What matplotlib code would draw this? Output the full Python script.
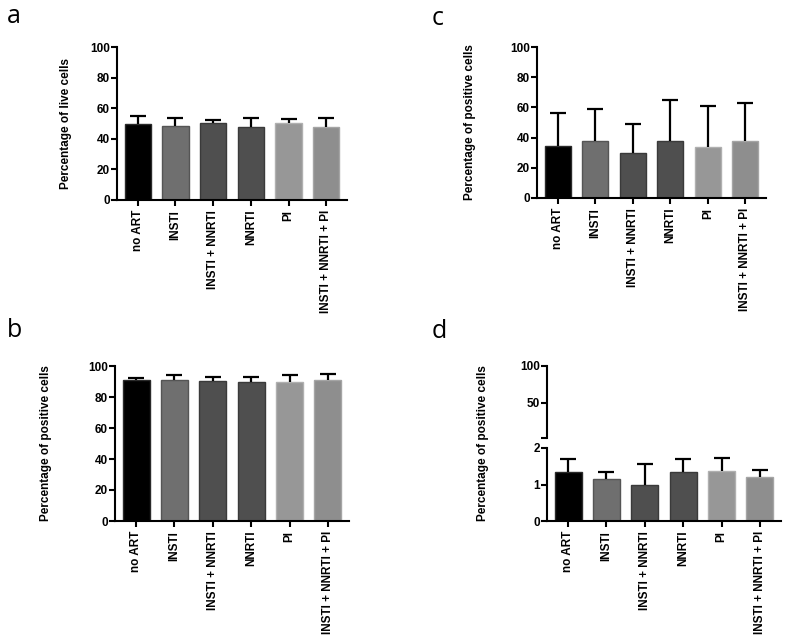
import numpy as np
import matplotlib
matplotlib.use('Agg')
import matplotlib.pyplot as plt

plt.rcParams['font.family'] = ['Liberation Sans', 'DejaVu Sans']

# Grupos de tratamento
grupos = ['no ART', 'INSTI', 'INSTI + NNRTI', 'NNRTI', 'PI', 'INSTI + NNRTI + PI']

# Valores (media e limite superior da barra de erro)
vivas_a = [49.4, 48.1, 50.1, 47.7, 50.1, 47.7]
vivas_a_sup = [55.1, 53.4, 52.5, 53.8, 52.7, 53.4]

pos_b = [91.0, 91.2, 90.3, 89.5, 89.9, 91.0]
pos_b_sup = [92.3, 94.0, 92.7, 93.1, 94.0, 94.6]

pos_c = [34.3, 37.6, 30.1, 37.6, 33.8, 37.8]
pos_c_sup = [56.5, 59.1, 49.2, 64.8, 60.9, 63.1]

pos_d = [1.34, 1.14, 1.00, 1.34, 1.37, 1.20]
pos_d_sup = [1.69, 1.34, 1.56, 1.69, 1.72, 1.40]

cores = ['#000000', '#6f6f6f', '#4f4f4f', '#4f4f4f', '#979797', '#8e8e8e']
bordas = ['#2a2a2a', '#555555', '#3a3a3a', '#3a3a3a', '#b0b0b0', '#a5a5a5']

W, H = 787, 641
fig = plt.figure(figsize=(W / 100, H / 100), dpi=100)


def eixo(x0, x1, y0, y1):
    # cria eixo a partir de coordenadas em pixels (topo = y0)
    return fig.add_axes([x0 / W, 1 - y1 / H, (x1 - x0) / W, (y1 - y0) / H])


def estilo(ax, mostra_x=True):
    for s in ['top', 'right']:
        ax.spines[s].set_visible(False)
    ax.spines['left'].set_linewidth(1.5)
    ax.spines['bottom'].set_linewidth(1.5)
    ax.tick_params(axis='y', direction='out', length=4, width=1.5, pad=1,
                   labelsize=8.5)
    ax.tick_params(axis='x', direction='out', length=4, width=1.5, pad=3,
                   labelsize=8.5)
    for t in ax.get_yticklabels():
        t.set_fontweight('bold')
    ax.set_xlim(-0.55, 5.55)
    if mostra_x:
        ax.set_xticks(range(len(grupos)))
        ax.set_xticklabels(grupos, rotation=90, fontweight='bold')
    else:
        ax.spines['bottom'].set_visible(False)
        ax.set_xticks([])


def barras(ax, media, sup):
    x = np.arange(len(grupos))
    ax.bar(x, media, width=0.7, color=cores, edgecolor=bordas, linewidth=1.0,
           zorder=2)
    err = np.array(sup) - np.array(media)
    _, caps, _ = ax.errorbar(x, media, yerr=[np.zeros(len(x)), err], fmt='none',
                             ecolor='black', elinewidth=1.6, capsize=5.5,
                             capthick=1.6, zorder=3)
    caps[0].set_visible(False)


def rotulo_y(ax, texto, dx_px):
    ax.set_ylabel(texto, fontsize=8.5, fontweight='bold')
    bb = ax.get_position()
    ax.yaxis.set_label_coords(-dx_px / (bb.width * W), 0.5)


# painel a
ax_a = eixo(117, 347, 47, 200)
barras(ax_a, vivas_a, vivas_a_sup)
ax_a.set_ylim(0, 100)
ax_a.set_yticks([0, 20, 40, 60, 80, 100])
estilo(ax_a)
rotulo_y(ax_a, 'Percentage of live cells', 45)

# painel c
ax_c = eixo(537, 766, 47, 198)
barras(ax_c, pos_c, pos_c_sup)
ax_c.set_ylim(0, 100)
ax_c.set_yticks([0, 20, 40, 60, 80, 100])
estilo(ax_c)
rotulo_y(ax_c, 'Percentage of positive cells', 61)

# painel b
ax_b = eixo(115, 349, 366, 521)
barras(ax_b, pos_b, pos_b_sup)
ax_b.set_ylim(0, 100)
ax_b.set_yticks([0, 20, 40, 60, 80, 100])
estilo(ax_b)
rotulo_y(ax_b, 'Percentage of positive cells', 63)

# painel d (eixo quebrado)
ax_d1 = eixo(547, 781, 366, 438)
ax_d1.set_ylim(2.7, 100)
ax_d1.set_yticks([2.7, 50, 100])
ax_d1.set_yticklabels(['', '50', '100'])
estilo(ax_d1, mostra_x=False)

ax_d2 = eixo(547, 781, 448, 521)
barras(ax_d2, pos_d, pos_d_sup)
ax_d2.set_ylim(0, 2)
ax_d2.set_yticks([0, 1, 2])
estilo(ax_d2)
fig.text(483 / W, 1 - 443 / H, 'Percentage of positive cells', rotation=90,
         ha='center', va='center', fontsize=8.5, fontweight='bold')

# letras dos paineis
for letra, x, y in [('a', 7, 23), ('c', 432, 25), ('b', 7, 337), ('d', 432, 338)]:
    fig.text(x / W, 1 - y / H, letra, fontsize=18, family=['Open Sans', 'DejaVu Sans'],
             ha='left', va='baseline')

fig.savefig('out.png', dpi=100)
